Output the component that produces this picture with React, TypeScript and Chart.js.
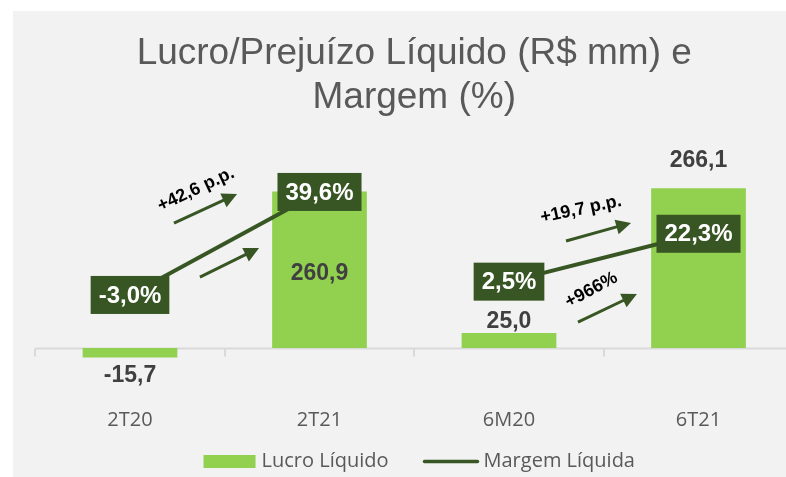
import { useEffect, useRef } from 'react';
import { Chart, registerables } from 'chart.js';

Chart.register(...registerables);

// ---------- data ----------
const categories = ['2T20', '2T21', '6M20', '6T21'];
const lucroLiquido = [-15.7, 260.9, 25.0, 266.1];
const margemLiquida = [-3.0, 39.6, 2.5, 22.3];
const variationTexts = ['+42,6 p.p.', '+19,7 p.p.', '+966%'];

// ---------- styling / annotation config ----------
const BAR_COLOR = '#92d050';
const DARK_GREEN = '#375623';
const TEXT_GREY = '#595959';
const LABEL_GREY = '#404040';

// offsets (px) of the bar value labels from their anchor (bar end / middle)
const valueLabelModes = ['below', 'middle', 'above', 'above'];
const valueLabelOffsets = [18, 4, -11, -28];

// arrows in (category index, margin %) coordinates
const arrowDefs = [
  { from: [0.232, 26.75], to: [0.565, 38.7] },
  { from: [0.369, 4.4], to: [0.681, 16.4] },
  { from: [2.301, 19.3], to: [2.644, 26.8] },
  { from: [2.364, -14.2], to: [2.675, -2.6] },
];
const variationTextDefs = [
  { at: [0.348, 40.6], angle: -25 },
  { at: [2.38, 32.4], angle: -12 },
  { at: [2.435, -0.95], angle: -28 },
];

const fmt = (v: number, suffix = '') => v.toFixed(1).replace('.', ',') + suffix;

function drawArrow(ctx: CanvasRenderingContext2D, x1: number, y1: number, x2: number, y2: number) {
  const ang = Math.atan2(y2 - y1, x2 - x1);
  const headLen = 15;
  const headW = 7.5;
  const bx = x2 - headLen * Math.cos(ang);
  const by = y2 - headLen * Math.sin(ang);
  ctx.save();
  ctx.strokeStyle = DARK_GREEN;
  ctx.fillStyle = DARK_GREEN;
  ctx.lineWidth = 3;
  ctx.beginPath();
  ctx.moveTo(x1, y1);
  ctx.lineTo(bx + Math.cos(ang), by + Math.sin(ang));
  ctx.stroke();
  ctx.beginPath();
  ctx.moveTo(x2, y2);
  ctx.lineTo(bx + headW * Math.sin(ang), by - headW * Math.cos(ang));
  ctx.lineTo(bx - headW * Math.sin(ang), by + headW * Math.cos(ang));
  ctx.closePath();
  ctx.fill();
  ctx.restore();
}

const overlayPlugin = {
  id: 'overlay',
  beforeDatasetsDraw(chart: any) {
    const ctx: CanvasRenderingContext2D = chart.ctx;
    const x = chart.scales.x;
    const y = chart.scales.y;
    const y0 = Math.round(y.getPixelForValue(0)) + 0.5;
    ctx.save();
    ctx.strokeStyle = '#d9d9d9';
    ctx.lineWidth = 2;
    ctx.beginPath();
    ctx.moveTo(x.left, y0);
    ctx.lineTo(x.right + 20, y0);
    ctx.stroke();
    for (let i = 0; i <= categories.length; i++) {
      const px = Math.round(x.getPixelForValue(i - 0.5));
      ctx.beginPath();
      ctx.moveTo(px, y0);
      ctx.lineTo(px, y0 + 8);
      ctx.stroke();
    }
    ctx.restore();
  },
  afterDatasetsDraw(chart: any) {
    const ctx: CanvasRenderingContext2D = chart.ctx;
    const xs = chart.scales.x;
    const y1 = chart.scales.y1;

    // arrows
    arrowDefs.forEach((a) => {
      drawArrow(
        ctx,
        xs.getPixelForValue(a.from[0]),
        y1.getPixelForValue(a.from[1]),
        xs.getPixelForValue(a.to[0]),
        y1.getPixelForValue(a.to[1])
      );
    });

    // variation texts
    ctx.save();
    ctx.font = 'bold 18px "Liberation Sans", Arial, sans-serif';
    ctx.fillStyle = '#000000';
    ctx.textAlign = 'center';
    ctx.textBaseline = 'middle';
    variationTextDefs.forEach((t, i) => {
      ctx.save();
      ctx.translate(xs.getPixelForValue(t.at[0]), y1.getPixelForValue(t.at[1]));
      ctx.rotate((t.angle * Math.PI) / 180);
      ctx.fillText(variationTexts[i], 0, 0);
      ctx.restore();
    });
    ctx.restore();

    // bar value labels
    const barMeta = chart.getDatasetMeta(0);
    ctx.save();
    ctx.font = 'bold 23px "Liberation Sans", Arial, sans-serif';
    ctx.fillStyle = LABEL_GREY;
    ctx.textAlign = 'center';
    ctx.textBaseline = 'middle';
    barMeta.data.forEach((bar: any, i: number) => {
      const top = Math.min(bar.y, bar.base);
      const bottom = Math.max(bar.y, bar.base);
      let yy;
      const mode = valueLabelModes[i];
      if (mode === 'below') yy = bottom + valueLabelOffsets[i];
      else if (mode === 'middle') yy = (top + bottom) / 2 + valueLabelOffsets[i];
      else yy = top + valueLabelOffsets[i];
      ctx.fillText(fmt(lucroLiquido[i]), bar.x, yy);
    });
    ctx.restore();

    // margin labels (boxes)
    const lineMeta = chart.getDatasetMeta(1);
    ctx.save();
    ctx.font = 'bold 24px "Liberation Sans", Arial, sans-serif';
    ctx.textAlign = 'center';
    ctx.textBaseline = 'middle';
    lineMeta.data.forEach((pt: any, i: number) => {
      const txt = fmt(margemLiquida[i], '%');
      const w = ctx.measureText(txt).width + 16;
      const h = 38;
      ctx.fillStyle = DARK_GREEN;
      ctx.fillRect(pt.x - w / 2, pt.y - h / 2, w, h);
      ctx.fillStyle = '#ffffff';
      ctx.fillText(txt, pt.x, pt.y + 1);
    });
    ctx.restore();
  },
  afterDraw(chart: any) {
    // legend
    const ctx: CanvasRenderingContext2D = chart.ctx;
    const area = chart.chartArea;
    ctx.save();
    ctx.font = '20px "Open Sans", sans-serif';
    ctx.textBaseline = 'middle';
    ctx.textAlign = 'left';
    const t1 = chart.data.datasets[0].label as string;
    const t2 = chart.data.datasets[1].label as string;
    const w1 = ctx.measureText(t1).width;
    const w2 = ctx.measureText(t2).width;
    const total = 52 + 6 + w1 + 35 + 55 + 5 + w2;
    const cx = (area.left + area.right) / 2 + 5;
    const cy = 461.5;
    let x = cx - total / 2;
    ctx.fillStyle = BAR_COLOR;
    ctx.fillRect(x, cy - 6.5, 52, 13);
    x += 58;
    ctx.fillStyle = TEXT_GREY;
    ctx.fillText(t1, x, cy);
    x += w1 + 35;
    ctx.strokeStyle = DARK_GREEN;
    ctx.lineWidth = 3.5;
    ctx.lineCap = 'round';
    ctx.beginPath();
    ctx.moveTo(x + 1, cy);
    ctx.lineTo(x + 54, cy);
    ctx.stroke();
    x += 60;
    ctx.fillText(t2, x, cy);
    ctx.restore();
  },
};

export default function App() {
  const canvasRef = useRef<HTMLCanvasElement | null>(null);

  useEffect(() => {
    if (!canvasRef.current) return;
    const chart = new Chart(canvasRef.current, {
      type: 'bar',
      data: {
        labels: categories,
        datasets: [
          {
            type: 'bar',
            label: 'Lucro Líquido',
            data: lucroLiquido,
            backgroundColor: BAR_COLOR,
            borderWidth: 0,
            barPercentage: 0.5,
            categoryPercentage: 1,
            yAxisID: 'y',
            order: 2,
          },
          {
            type: 'line',
            label: 'Margem Líquida',
            data: margemLiquida,
            borderColor: DARK_GREEN,
            backgroundColor: DARK_GREEN,
            borderWidth: 4,
            pointRadius: 0,
            tension: 0,
            yAxisID: 'y1',
            order: 1,
            segment: {
              borderColor: (c: any) => (c.p0DataIndex === 1 ? 'rgba(0,0,0,0)' : DARK_GREEN),
            },
          } as any,
        ],
      },
      options: {
        responsive: false,
        animation: false,
        devicePixelRatio: 1,
        layout: { padding: { left: 35.25, right: 6.75, top: 0, bottom: 42 } },
        plugins: {
          legend: { display: false },
          tooltip: { enabled: false },
          title: {
            display: true,
            text: ['Lucro/Prejuízo Líquido (R$ mm) e', 'Margem (%)'],
            color: TEXT_GREY,
            font: { family: '"Liberation Sans", Arial, sans-serif', size: 37, weight: 'normal', lineHeight: 44 / 37 },
            padding: { top: 32, bottom: 20 },
          },
        },
        scales: {
          x: {
            grid: { display: false, drawTicks: false },
            border: { display: false },
            ticks: {
              color: TEXT_GREY,
              font: { family: '"Open Sans", sans-serif', size: 20 },
              padding: 3,
              maxRotation: 0,
            },
          },
          y: { display: false, min: -95, max: 346.67 },
          y1: { display: false, position: 'right', min: -48.51, max: 61.08, grid: { display: false } },
        },
      },
      plugins: [overlayPlugin],
    });
    return () => chart.destroy();
  }, []);

  return (
    <div
      style={{
        position: 'fixed',
        left: 0,
        top: 0,
        width: 786,
        height: 477,
        overflow: 'hidden',
        background: '#ffffff',
      }}
    >
      <div
        style={{
          position: 'absolute',
          left: 13,
          top: 11,
          right: 0,
          bottom: 0,
          background: '#f2f2f2',
        }}
      />
      <canvas
        ref={canvasRef}
        width={800}
        height={477}
        style={{ position: 'absolute', left: 0, top: 0, width: 800, height: 477 }}
      />
    </div>
  );
}
